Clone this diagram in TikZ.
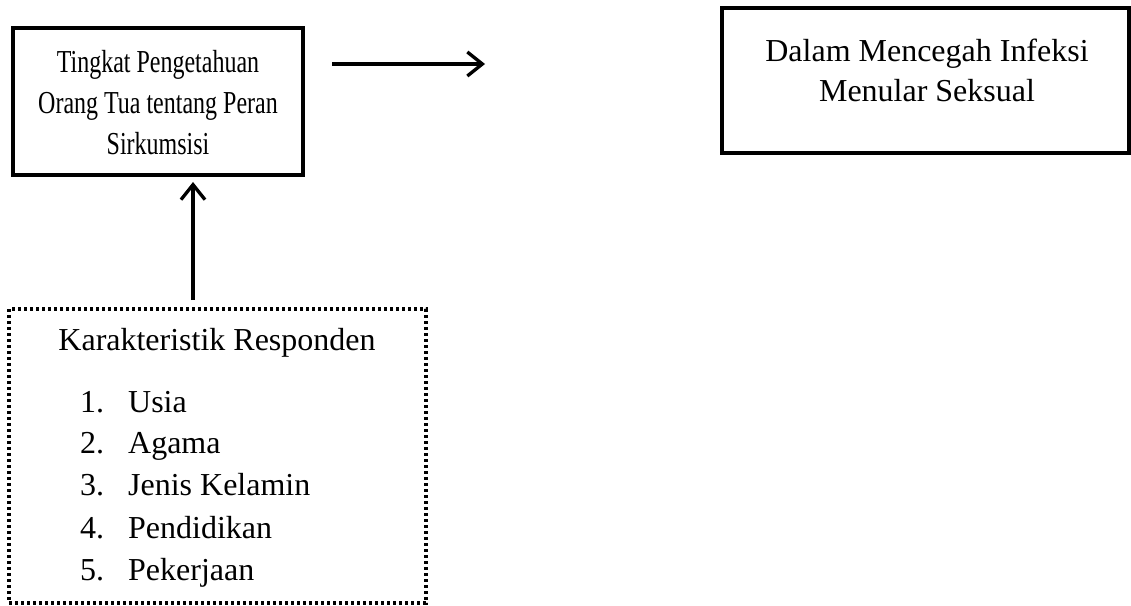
\documentclass[tikz,border=0pt]{standalone}
\usepackage{fontspec}
\setmainfont{Liberation Serif}
\newfontfamily\narrowserif[FakeStretch=0.75]{Liberation Serif}
\usetikzlibrary{arrows.meta}

\begin{document}
\begin{tikzpicture}[
  box/.style={rectangle, draw, line width=0.11cm, inner sep=0pt},
  dotbox/.style={rectangle, draw, line width=0.1cm, dash pattern=on 0.1cm off 0.08cm, inner sep=0pt},
  txt/.style={align=center, inner sep=0pt, font=\fontsize{27.3}{33.3}\selectfont},
  item/.style={anchor=base west, inner sep=0pt, font=\fontsize{27.3}{33.3}\selectfont},
  arrow/.style={-{Straight Barb[length=0.45cm, width=0.72cm]}, line width=0.1cm},
]
\useasboundingbox (0,0) rectangle (33.93,18.15);

% === BOXES ===
\node[box, minimum width=8.7cm, minimum height=4.41cm] (hub) at (4.74, 15.105) {};
\node[txt, font=\fontsize{27.3}{35}\narrowserif] (hubtext) at (4.74, 15.08)
  {Tingkat Pengetahuan\\Orang Tua tentang Peran\\Sirkumsisi};

\node[box, minimum width=12.21cm, minimum height=4.35cm] (outcome) at (27.765, 15.735) {};
\node[txt, font=\fontsize{27.3}{34}\selectfont] (outcometext) at (27.81, 16.05)
  {Dalam Mencegah Infeksi\\Menular Seksual};

\node[dotbox, minimum width=12.51cm, minimum height=8.82cm] (resp) at (6.525, 4.47) {};
\node[txt, anchor=base] (resphead) at (6.51, 7.65) {Karakteristik Responden};

% === LIST ===
\node[item] (i1) at (2.4, 5.79) {\makebox[1.44cm][l]{1.}Usia};
\node[item] (i2) at (2.4, 4.56) {\makebox[1.44cm][l]{2.}Agama};
\node[item] (i3) at (2.4, 3.30) {\makebox[1.44cm][l]{3.}Jenis Kelamin};
\node[item] (i4) at (2.4, 2.01) {\makebox[1.44cm][l]{4.}Pendidikan};
\node[item] (i5) at (2.4, 0.75) {\makebox[1.44cm][l]{5.}Pekerjaan};

% === ARROWS ===
\coordinate (rightfrom) at (9.96, 16.23);
\coordinate (rightto) at (14.55, 16.23);
\coordinate (upfrom) at (5.79, 9.15);
\coordinate (upto) at (5.79, 12.69);

\draw[arrow] (rightfrom) -- (rightto);
\draw[arrow] (upfrom) -- (upto);
\end{tikzpicture}
\end{document}
